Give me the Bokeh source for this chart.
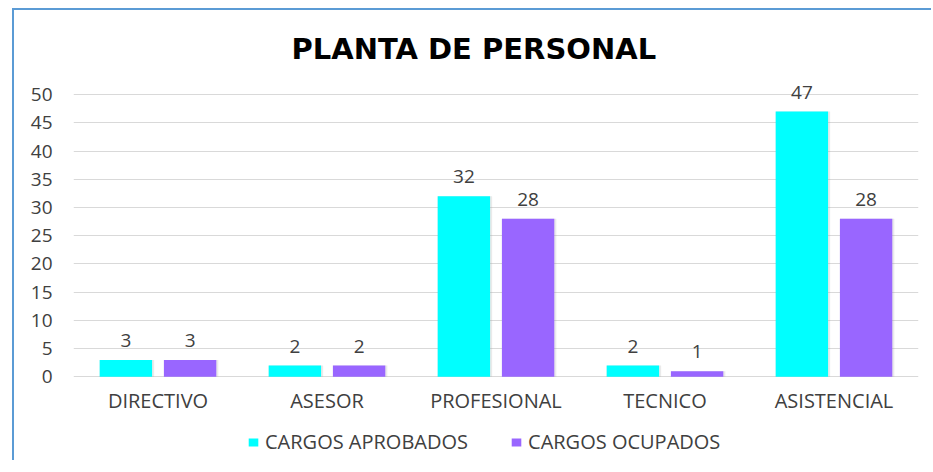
from bokeh.plotting import figure
from bokeh.models import ColumnDataSource, Legend, LegendItem, LabelSet, FactorRange
from bokeh.core.properties import value
from bokeh.transform import dodge
from bokeh.embed import file_html
from bokeh.resources import INLINE

categories = ["DIRECTIVO", "ASESOR", "PROFESIONAL", "TECNICO", "ASISTENCIAL"]
aprobados = [3, 2, 32, 2, 47]
ocupados = [3, 2, 28, 1, 28]
series_names = ["CARGOS APROBADOS", "CARGOS OCUPADOS"]
y_ticks = [0, 5, 10, 15, 20, 25, 30, 35, 40, 45, 50]

src = ColumnDataSource(dict(cat=categories, a=aprobados, o=ocupados,
                            a_txt=[str(v) for v in aprobados],
                            o_txt=[str(v) for v in ocupados]))

FONT = "Open Sans"
FS = "19px"
FS_CAT = "20px"
TXT = "#404040"

p = figure(x_range=FactorRange(*categories), y_range=(-15, 52.5),
           width=919, height=452, output_backend="svg", toolbar_location=None,
           title="PLANTA DE PERSONAL")
p.styles = {"margin-left": "12px", "margin-top": "8px",
            "border-left": "2px solid #5B9BD5", "border-top": "2px solid #5B9BD5"}
p.min_border_left = 59
p.min_border_right = 15
p.min_border_top = 70
p.min_border_bottom = 1
p.outline_line_color = None
p.background_fill_color = "white"
p.border_fill_color = "white"

p.title.align = "left"
p.title.text_font = "DejaVu Sans"
p.title.text_font_style = "bold"
p.title.text_font_size = "29px"
p.title.text_color = "#000000"
p.title.standoff = 30
p.title.offset = 218

W = 0.31
DX = 0.19
# soft shadows
p.vbar(x=dodge("cat", -DX + 0.006, range=p.x_range), top="a", width=W + 0.012, source=src,
       fill_color="#A0A0A0", fill_alpha=0.22, line_color=None)
p.vbar(x=dodge("cat", DX + 0.006, range=p.x_range), top="o", width=W + 0.012, source=src,
       fill_color="#A0A0A0", fill_alpha=0.22, line_color=None)
ra = p.vbar(x=dodge("cat", -DX, range=p.x_range), top="a", width=W, source=src,
            fill_color="#00FFFF", line_color=None)
ro = p.vbar(x=dodge("cat", DX, range=p.x_range), top="o", width=W, source=src,
            fill_color="#9966FF", line_color=None)

for col, txt, off in (("a", "a_txt", -DX), ("o", "o_txt", DX)):
    p.add_layout(LabelSet(x=dodge("cat", off, range=p.x_range), y=col, text=txt, source=src,
                          text_align="center", text_baseline="alphabetic", y_offset=13,
                          text_font=value(FONT), text_font_size=FS, text_color=TXT))

# category labels under the baseline
p.add_layout(LabelSet(x="cat", y=0, text="cat", source=src,
                      text_align="center", text_baseline="middle", y_offset=-24,
                      text_font=value(FONT), text_font_size=FS_CAT, text_color=TXT))

p.yaxis.ticker = y_ticks
p.yaxis.axis_line_color = None
p.yaxis.major_tick_line_color = None
p.yaxis.minor_tick_line_color = None
p.yaxis.major_label_standoff = 15
p.yaxis.major_label_text_font = FONT
p.yaxis.major_label_text_font_size = FS
p.yaxis.major_label_text_color = TXT

p.xaxis.visible = False

p.xgrid.grid_line_color = None
p.ygrid.ticker = y_ticks
p.ygrid.grid_line_color = "#D9D9D9"
p.ygrid.grid_line_width = 1

legend = Legend(items=[LegendItem(label=series_names[0], renderers=[ra]),
                       LegendItem(label=series_names[1], renderers=[ro])],
                orientation="horizontal", location=(174, 6),
                glyph_width=12, glyph_height=10, label_standoff=6, spacing=42,
                label_height=20,
                label_text_font=FONT, label_text_font_size=FS_CAT, label_text_color=TXT,
                border_line_color=None, background_fill_alpha=0, padding=0, margin=0)
p.add_layout(legend)

open("out.html", "w").write(file_html(p, INLINE))
